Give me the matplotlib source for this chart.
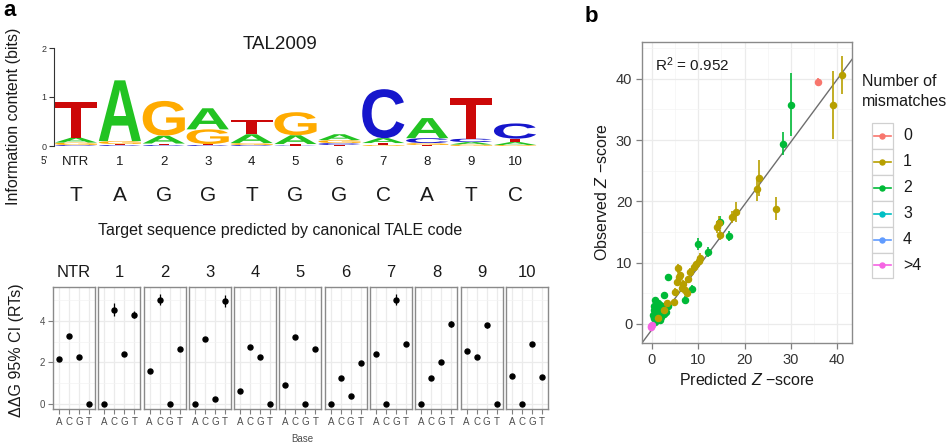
import numpy as np
import matplotlib
matplotlib.use('Agg')
import matplotlib.pyplot as plt
from matplotlib.textpath import TextPath
from matplotlib.font_manager import FontProperties
from matplotlib.patches import PathPatch, Rectangle
from matplotlib.transforms import Affine2D

plt.rcParams['font.family'] = ['Liberation Sans', 'DejaVu Sans']
plt.rcParams['mathtext.fontset'] = 'custom'
plt.rcParams['mathtext.rm'] = 'Liberation Sans'
plt.rcParams['mathtext.it'] = 'Liberation Sans:italic'

# ---------------- data ----------------
positions = ['NTR', '1', '2', '3', '4', '5', '6', '7', '8', '9', '10']
target_seq = ['T', 'A', 'G', 'G', 'T', 'G', 'G', 'C', 'A', 'T', 'C']
bases = ['A', 'C', 'G', 'T']

# sequence logo heights (bits)
logo_A = [0.10, 1.24, 0.16, 0.43, 0.18, 0.18, 0.12, 0.10, 0.41, 0.05, 0.06]
logo_C = [0.02, 0.02, 0.02, 0.02, 0.02, 0.01, 0.04, 1.00, 0.10, 0.07, 0.31]
logo_G = [0.05, 0.06, 0.71, 0.30, 0.04, 0.47, 0.06, 0.02, 0.04, 0.03, 0.02]
logo_T = [0.73, 0.02, 0.03, 0.02, 0.30, 0.03, 0.02, 0.04, 0.02, 0.82, 0.07]

# ddG 95% CI (RTs) per position, bases A C G T
ddg_A = [2.15, 0.00, 1.61, 0.00, 0.64, 0.92, 0.00, 2.41, 0.00, 2.55, 1.35]
ddg_C = [3.29, 4.56, 5.04, 3.12, 2.73, 3.24, 1.27, 0.00, 1.27, 2.25, 0.00]
ddg_G = [2.25, 2.41, 0.00, 0.23, 2.28, 0.00, 0.40, 5.04, 2.01, 3.81, 2.88]
ddg_T = [0.00, 4.32, 2.65, 4.98, 0.00, 2.63, 1.96, 2.88, 3.86, 0.00, 1.30]
err_A = [0.05, 0.03, 0.06, 0.03, 0.05, 0.05, 0.03, 0.06, 0.03, 0.06, 0.05]
err_C = [0.06, 0.30, 0.25, 0.06, 0.06, 0.06, 0.05, 0.03, 0.05, 0.06, 0.03]
err_G = [0.06, 0.06, 0.03, 0.05, 0.06, 0.03, 0.05, 0.25, 0.06, 0.12, 0.06]
err_T = [0.03, 0.18, 0.06, 0.28, 0.03, 0.06, 0.05, 0.06, 0.15, 0.03, 0.05]

# panel b: predicted vs observed Z-score
mismatch_labels = ['0', '1', '2', '3', '4', '>4']
pred_z = [35.8,
          41.1, 39.0, 23.2, 22.6, 26.7, 18.1, 17.2, 14.4, 14.7, 10.3, 9.0, 8.3, 10.2, 5.7, 5.9,
          6.8, 7.2, 5.0, 4.7, 3.2, 6.1, 5.4, 6.5, 7.5, 1.2, 2.5, 9.6, 7.8, 14.0,
          30.1, 28.2, 14.6, 16.7, 12.2, 10.0, 8.6, 3.4, 7.2, 2.7, 0.7, 1.8, 0.35, 1.1, 2.5,
          1.8, 0.7, 0.2, 1.5, 3.0, 2.2, 0.5, 3.5, 1.0, 2.0, 0.4, 1.3,
          1.0, 0.5,
          -0.3, 0.0, -0.2]
obs_z = [39.5,
         40.6, 35.7, 23.8, 22.0, 18.8, 18.3, 17.4, 16.4, 14.5, 10.7, 9.3, 8.5, 10.2, 9.1, 7.7,
         6.6, 5.5, 5.3, 3.6, 3.4, 8.0, 6.9, 5.8, 5.0, 0.9, 2.3, 9.8, 7.3, 15.8,
         35.8, 29.4, 16.6, 14.4, 11.8, 13.0, 5.7, 7.6, 3.9, 4.7, 3.9, 3.1, 2.3, 1.2, 1.7,
         0.65, 0.4, 1.5, 2.5, 2.0, 2.9, 0.9, 3.0, 1.9, 1.2, 3.0, 3.5,
         1.9, 0.9,
         -0.5, -0.1, -0.3]
obs_err = [0.6,
           3.1, 5.6, 3.0, 1.9, 1.9, 1.6, 1.0, 1.2, 0.8, 0.8, 0.6, 0.6, 0.6, 0.7, 0.6,
           0.5, 0.5, 0.5, 0.5, 0.5, 0.5, 0.5, 0.5, 0.5, 0.4, 0.4, 0.5, 0.5, 1.0,
           5.2, 1.9, 1.0, 0.8, 0.8, 1.0, 0.6, 0.6, 0.6, 0.5, 0.5, 0.5, 0.4, 0.4, 0.4,
           0.4, 0.4, 0.4, 0.4, 0.4, 0.4, 0.4, 0.4, 0.4, 0.4, 0.4, 0.4,
           0.3, 0.3,
           0.3, 0.3, 0.3]
n_mismatch = ['0'] + ['1'] * 29 + ['2'] * 27 + ['3', '4'] + ['>4'] * 3
fit_slope = 1.02
fit_intercept = -0.9
r_squared = 0.952

# ---------------- styling ----------------
W, H = 953, 446
fig = plt.figure(figsize=(W / 100, H / 100), dpi=100)

def fax(x0, y0, x1, y1, **kw):
    return fig.add_axes([x0 / W, 1 - y1 / H, (x1 - x0) / W, (y1 - y0) / H], **kw)

base_colors = {'A': '#22c322', 'C': '#1616cc', 'G': '#ffab00', 'T': '#cc0808'}
mm_colors = ['#F8766D', '#B79F00', '#00BA38', '#00BFC4', '#619CFF', '#F564E3']
mm_z = [3.5, 3.4, 3.3, 3.0, 3.0, 3.6]
grey_border = '#8a8a8a'
grid_col = '#ebebeb'
txt = '#1a1a1a'
tick_txt = '#4d4d4d'

# ---------------- panel a: logo ----------------
ax_logo = fax(54, 48, 537, 146)
ax_logo.set_xlim(0, 11)
ax_logo.set_ylim(0, 2)
for s in ['top', 'right', 'bottom']:
    ax_logo.spines[s].set_visible(False)
ax_logo.spines['left'].set_color('#333333')
ax_logo.spines['left'].set_linewidth(0.8)
ax_logo.set_xticks([])
ax_logo.set_yticks([0, 1, 2])
ax_logo.tick_params(axis='y', length=3.5, width=0.8, labelsize=6.5, colors='#333333', pad=2)
ax_logo.patch.set_alpha(0)

fp = FontProperties(family='Liberation Sans', weight='bold')

def draw_letter(ax, ch, x, y, w, h, color):
    tp = TextPath((0, 0), ch, size=1, prop=fp)
    bb = tp.get_extents()
    tr = Affine2D().translate(-bb.x0, -bb.y0).scale(w / bb.width, h / bb.height).translate(x, y)
    ax.add_patch(PathPatch(tr.transform_path(tp), fc=color, ec='none', lw=0))

logo = {'A': logo_A, 'C': logo_C, 'G': logo_G, 'T': logo_T}
for i in range(len(positions)):
    stack = sorted(bases, key=lambda b: logo[b][i])
    y0 = 0.0
    for b in stack:
        h = logo[b][i]
        draw_letter(ax_logo, b, i + 0.02, y0, 0.96, h, base_colors[b])
        y0 += h

px_per_bit = 49.0
def logo_y(py):
    return (146 - py) / px_per_bit

for i, p in enumerate(positions):
    ax_logo.text(i + 0.5, logo_y(162), p, ha='center', va='center', fontsize=9.5, color=txt)
    ax_logo.text(i + 0.5, logo_y(196), target_seq[i], ha='center', va='center', fontsize=15, color=txt)
ax_logo.text((44 - 54) / 43.9, logo_y(161), "5'", ha='center', va='center', fontsize=7, color=txt)
ax_logo.text((280 - 54) / 43.9, logo_y(44), 'TAL2009', ha='center', va='center', fontsize=13.5, color=txt)
ax_logo.text((280 - 54) / 43.9, logo_y(231), 'Target sequence predicted by canonical TALE code',
             ha='center', va='center', fontsize=11.5, color=txt)

# ---------------- panel a: small multiples ----------------
ddg = {'A': ddg_A, 'C': ddg_C, 'G': ddg_G, 'T': ddg_T}
err = {'A': err_A, 'C': err_C, 'G': err_G, 'T': err_T}
for i, p in enumerate(positions):
    x0 = 53 + i * 45.3
    ax = fax(x0, 287, x0 + 42, 409)
    ax.set_xlim(0.4, 4.6)
    ax.set_ylim(-0.25, 5.65)
    ax.set_yticks([0, 2, 4])
    ax.set_yticks([1, 3, 5], minor=True)
    ax.set_xticks([1, 2, 3, 4])
    ax.set_xticklabels(bases)
    ax.grid(True, which='major', color=grid_col, lw=0.9)
    ax.grid(True, which='minor', axis='y', color='#f3f3f3', lw=0.5)
    ax.set_axisbelow(True)
    for s in ax.spines.values():
        s.set_color(grey_border)
        s.set_linewidth(1.0)
    ax.tick_params(axis='both', which='major', length=3.5, width=0.8, color='#7f7f7f',
                   labelsize=7, labelcolor=tick_txt, pad=2)
    ax.tick_params(axis='y', which='minor', length=0)
    if i > 0:
        ax.tick_params(axis='y', which='major', left=False, labelleft=False)
    xs = np.arange(1, 5)
    ys = [ddg[b][i] for b in bases]
    es = [err[b][i] for b in bases]
    ax.errorbar(xs, ys, yerr=es, fmt='o', color='black', ms=3.6, elinewidth=0.9, capsize=0)
    ax.set_title(p, fontsize=12, color=txt, pad=7)

# ---------------- panel b ----------------
ax_b = fax(642, 42, 852, 343)
ax_b.set_xlim(-2.15, 43.2)
ax_b.set_ylim(-3.1, 46)
ax_b.set_xticks([0, 10, 20, 30, 40])
ax_b.set_yticks([0, 10, 20, 30, 40])
ax_b.set_xticks([5, 15, 25, 35], minor=True)
ax_b.set_yticks([5, 15, 25, 35, 45], minor=True)
ax_b.grid(True, which='major', color=grid_col, lw=0.9)
ax_b.grid(True, which='minor', color='#f4f4f4', lw=0.5)
ax_b.set_axisbelow(True)
for s in ax_b.spines.values():
    s.set_color(grey_border)
    s.set_linewidth(1.0)
ax_b.tick_params(axis='both', which='major', length=4, width=0.9, color='#7f7f7f',
                 labelsize=10.5, labelcolor='#333333', pad=3)
ax_b.tick_params(which='minor', length=0)

xl = np.array(ax_b.get_xlim())
ax_b.plot(xl, fit_slope * xl + fit_intercept, color='#6e6e6e', lw=1.0, zorder=2)

pz = np.array(pred_z); oz = np.array(obs_z); oe = np.array(obs_err); nm = np.array(n_mismatch)
for lab, col, zo in zip(mismatch_labels, mm_colors, mm_z):
    m = nm == lab
    if m.any():
        ax_b.errorbar(pz[m], oz[m], yerr=oe[m], fmt='o', color=col, ms=4.4,
                      elinewidth=1.2, capsize=0, zorder=zo)
ax_b.text(0.06, 0.925, r'R$^2$ = %.3f' % r_squared, transform=ax_b.transAxes,
          fontsize=11, color=txt, ha='left', va='center')
ax_b.set_xlabel(r'Predicted $Z$ −score', fontsize=11.5, color=txt, labelpad=4)
ax_b.set_ylabel(r'Observed $Z$ −score', fontsize=11.5, color=txt, labelpad=4)

# ---------------- overlay (pixel coordinates) ----------------
ov = fig.add_axes([0, 0, 1, 1])
ov.set_xlim(0, W)
ov.set_ylim(H, 0)
ov.axis('off')
ov.patch.set_alpha(0)

ov.text(3, 10, 'a', fontsize=16, fontweight='bold', ha='left', va='center', color='black')
ov.text(585, 17, 'b', fontsize=16, fontweight='bold', ha='left', va='center', color='black')
ov.text(14, 116, 'Information content (bits)', rotation=90, fontsize=11.5, ha='center', va='center', color=txt)
ov.text(17, 350, 'ΔΔG 95% CI (RTs)', rotation=90, fontsize=11.5, ha='center', va='center', color=txt)
ov.text(302, 439, 'Base', fontsize=7, ha='center', va='center', color=tick_txt)

# legend
ov.text(862, 81, 'Number of', fontsize=11.5, ha='left', va='center', color=txt)
ov.text(862, 101, 'mismatches', fontsize=11.5, ha='left', va='center', color=txt)
step = 25.9
for k, (lab, col) in enumerate(zip(mismatch_labels, mm_colors)):
    top = 123 + k * step
    cy = top + step / 2
    ov.add_patch(Rectangle((872, top), 21.5, step, fc='white', ec='#d0d0d0', lw=0.9))
    ov.plot([874, 891], [cy, cy], color=col, lw=1.2)
    ov.plot([882.5], [cy], 'o', color=col, ms=3.6)
    ov.text(903, cy, lab, fontsize=11.5, ha='left', va='center', color=txt)

fig.savefig('out.png', dpi=100)
